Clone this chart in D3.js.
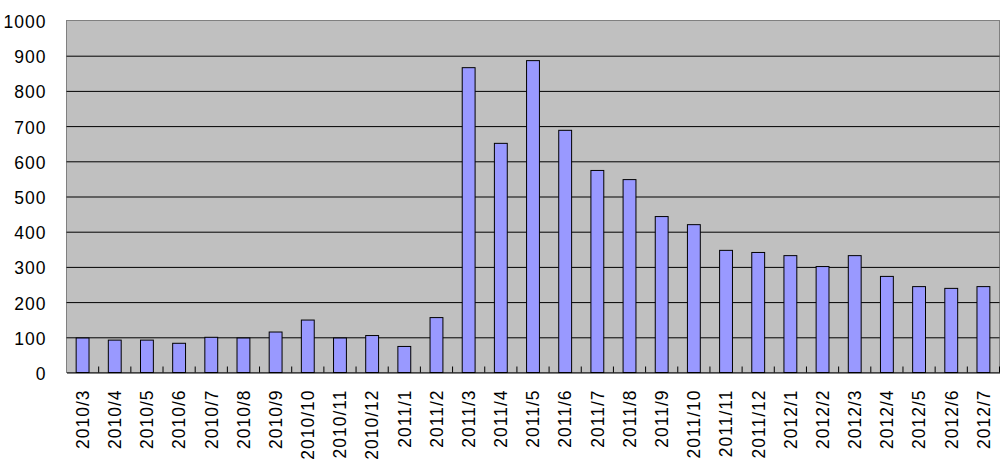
<!DOCTYPE html>
<html>
<head>
<meta charset="utf-8">
<script src="https://cdn.jsdelivr.net/npm/d3@7"></script>
<style>
  body { margin: 0; background: #fff; }
  text { font-family: "Liberation Sans", Arial, sans-serif; }
</style>
</head>
<body>
<div id="container"></div>
<script>
/* DATA */
const months = ["2010/3", "2010/4", "2010/5", "2010/6", "2010/7", "2010/8", "2010/9", "2010/10",
  "2010/11", "2010/12", "2011/1", "2011/2", "2011/3", "2011/4", "2011/5", "2011/6", "2011/7",
  "2011/8", "2011/9", "2011/10", "2011/11", "2011/12", "2012/1", "2012/2", "2012/3", "2012/4",
  "2012/5", "2012/6", "2012/7"]
const counts = [98, 92, 92, 83, 100, 98, 115, 149, 98, 105, 74, 156, 866, 651, 886, 688, 574,
  548, 443, 420, 347, 341, 332, 301, 332, 273, 244, 239, 244]
const yTicks = [0, 100, 200, 300, 400, 500, 600, 700, 800, 900, 1000]

const data = months.map((m, i) => ({ month: m, count: counts[i] }))

/* CONSTANTS */
const width = 1006
const height = 470
const margin = { top: 20.5, right: 6.5, bottom: 97.5, left: 66.5 }

const svg = d3.select("#container")
  .append("svg")
  .attr("width", width)
  .attr("height", height)

/* SCALES */
const xScale = d3.scaleBand()
  .domain(months)
  .range([margin.left, width - margin.right])

// bars take 40% of each slot, centred
const xBar = d3.scaleBand()
  .domain(months)
  .range([margin.left, width - margin.right])
  .paddingInner(0.6)
  .paddingOuter(0.3)

const yScale = d3.scaleLinear()
  .domain([0, 1000])
  .range([height - margin.bottom, margin.top])

/* PLOT AREA */
svg.append("rect")
  .attr("x", margin.left)
  .attr("y", margin.top)
  .attr("width", width - margin.left - margin.right)
  .attr("height", height - margin.top - margin.bottom)
  .attr("fill", "#c0c0c0")
  .attr("stroke", "#808080")
  .attr("stroke-width", 1)

// gridlines + y labels
const yAxis = d3.axisLeft(yScale)
  .tickValues(yTicks)
  .tickSize(-(width - margin.left - margin.right))
  .tickPadding(20)
  .tickFormat(d3.format("d"))

const yG = svg.append("g")
  .attr("transform", `translate(${margin.left},0)`)
  .call(yAxis)
yG.select(".domain").remove()
yG.selectAll(".tick line")
  .attr("stroke", "#000")
  .attr("stroke-opacity", d => d === 0 || d === 1000 ? 0 : 1)
yG.selectAll(".tick text")
  .attr("fill", "#000")
  .style("font-size", "17.5px")
  .style("letter-spacing", "1px")
  .attr("dy", "0.4em")

/* BARS */
svg.selectAll("rect.bar")
  .data(data)
  .join("rect")
  .attr("class", "bar")
  .attr("x", d => xBar(d.month))
  .attr("y", d => yScale(d.count))
  .attr("width", xBar.bandwidth())
  .attr("height", d => yScale(0) - yScale(d.count))
  .attr("fill", "#9999ff")
  .attr("stroke", "#000")
  .attr("stroke-width", 1)

/* X AXIS */
const xAxis = d3.axisBottom(xScale).tickSize(0).tickPadding(0)
const xG = svg.append("g")
  .attr("transform", `translate(0,${height - margin.bottom})`)
  .call(xAxis)
xG.select(".domain").attr("stroke", "#000")
xG.selectAll(".tick text")
  .attr("fill", "#000")
  .style("font-size", "17.5px")
  .style("letter-spacing", "1px")
  .attr("text-anchor", "end")
  .attr("transform", "rotate(-90)")
  .attr("x", -17)
  .attr("y", 0)
  .attr("dy", "0.36em")

// inner tick marks at category boundaries
xG.selectAll("line.boundary")
  .data(months.slice(1).concat(["end"]))
  .join("line")
  .attr("class", "boundary")
  .attr("x1", d => d === "end" ? width - margin.right : xScale(d))
  .attr("x2", d => d === "end" ? width - margin.right : xScale(d))
  .attr("y1", 0)
  .attr("y2", -6)
  .attr("stroke", "#000")
</script>
</body>
</html>
